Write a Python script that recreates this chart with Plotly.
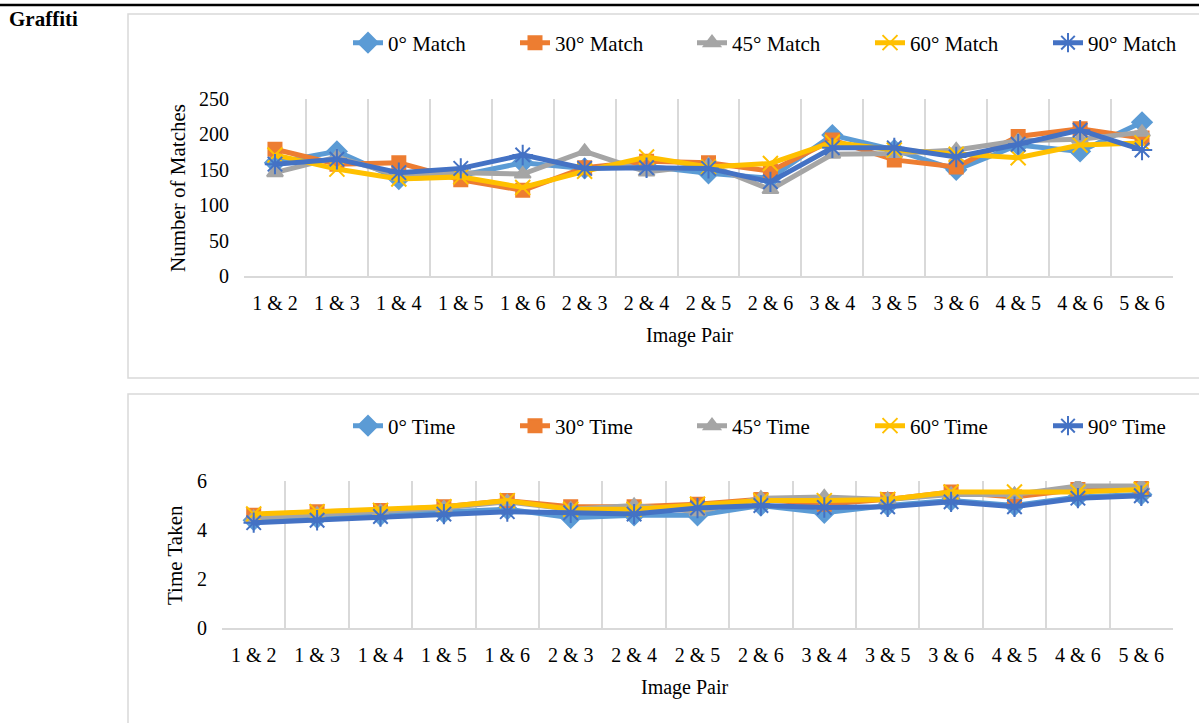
import plotly.graph_objects as go

W, H = 1199, 723

pairs = ["1 & 2", "1 & 3", "1 & 4", "1 & 5", "1 & 6", "2 & 3", "2 & 4", "2 & 5",
         "2 & 6", "3 & 4", "3 & 5", "3 & 6", "4 & 5", "4 & 6", "5 & 6"]

angles = ["0°", "30°", "45°", "60°", "90°"]

match_0 = [160, 176, 137, 142, 160, 152, 155, 145, 138, 199, 178, 150, 185, 176, 217]
match_30 = [179, 158, 160, 136, 121, 153, 162, 160, 148, 192, 164, 154, 197, 208, 195]
match_45 = [146, 168, 142, 146, 144, 176, 147, 157, 122, 172, 173, 178, 191, 193, 203]
match_60 = [171, 151, 137, 140, 125, 148, 168, 154, 159, 189, 178, 172, 167, 185, 188]
match_90 = [158, 165, 146, 152, 171, 152, 153, 152, 133, 181, 181, 168, 186, 206, 178]

time_0 = [4.40, 4.50, 4.60, 4.70, 4.85, 4.50, 4.60, 4.60, 5.00, 4.70, 5.00, 5.20, 5.00, 5.35, 5.45]
time_30 = [4.60, 4.75, 4.80, 4.95, 5.20, 4.95, 4.95, 5.05, 5.25, 5.05, 5.25, 5.55, 5.35, 5.65, 5.70]
time_45 = [4.50, 4.65, 4.75, 4.90, 5.15, 4.85, 5.00, 4.75, 5.30, 5.35, 5.25, 5.45, 5.45, 5.80, 5.80]
time_60 = [4.65, 4.75, 4.80, 4.95, 5.20, 4.85, 4.85, 5.05, 5.20, 5.20, 5.25, 5.55, 5.55, 5.55, 5.65]
time_90 = [4.30, 4.40, 4.55, 4.65, 4.75, 4.70, 4.65, 4.90, 5.00, 4.92, 4.95, 5.15, 4.95, 5.30, 5.40]

colors = ["#5B9BD5", "#ED7D31", "#A5A5A5", "#FFC000", "#4472C4"]
symbols = ["diamond", "square", "triangle-up", "x-thin-open", "asterisk-open"]
sizes = [15, 13, 14, 15, 17]

# left edge (px) of each legend entry
legend_left = [348, 515, 692, 870, 1048]

FONT = "Liberation Serif"
GRID = "#d9d9d9"


def px_x(v):
    return v / W


def px_y(v):
    return 1 - v / H


fig = go.Figure()

match_series = [match_0, match_30, match_45, match_60, match_90]
time_series = [time_0, time_30, time_45, time_60, time_90]

for i, (ang, vals) in enumerate(zip(angles, match_series)):
    fig.add_trace(go.Scatter(
        x=pairs, y=vals, name=f"{ang} Match", mode="lines+markers",
        line=dict(color=colors[i], width=5),
        marker=dict(symbol=symbols[i], size=sizes[i], color=colors[i],
                    line=dict(color=colors[i], width=2)),
        xaxis="x", yaxis="y", legend="legend" if i == 0 else f"legend{i + 1}",
    ))

for i, (ang, vals) in enumerate(zip(angles, time_series)):
    fig.add_trace(go.Scatter(
        x=pairs, y=vals, name=f"{ang} Time", mode="lines+markers",
        line=dict(color=colors[i], width=5),
        marker=dict(symbol=symbols[i], size=sizes[i], color=colors[i],
                    line=dict(color=colors[i], width=2)),
        xaxis="x2", yaxis="y2", legend=f"legend{i + 6}",
    ))

xaxis_common = dict(
    type="category", tickson="boundaries", showgrid=True, gridcolor=GRID, gridwidth=1.5,
    showline=True, linecolor=GRID, linewidth=1.5, ticks="", zeroline=False,
    tickfont=dict(family=FONT, size=20, color="#000"), ticklabelstandoff=8,
    range=[-0.5, 14.5], fixedrange=True,
)
yaxis_common = dict(
    showgrid=False, showline=False, zeroline=False, ticks="",
    tickfont=dict(family=FONT, size=20, color="#000"), ticklabelstandoff=14,
    fixedrange=True,
)

legend_common = dict(
    orientation="h", xanchor="left", yanchor="middle",
    font=dict(family=FONT, size=21, color="#000"),
    itemwidth=30, bgcolor="rgba(0,0,0,0)",
)

legends = {}
for i, left in enumerate(legend_left):
    legends["legend" if i == 0 else f"legend{i + 1}"] = dict(
        x=px_x(left), y=px_y(43), **legend_common)
    legends[f"legend{i + 6}"] = dict(x=px_x(left), y=px_y(426), **legend_common)

fig.update_layout(
    width=W, height=H,
    margin=dict(l=0, r=0, t=0, b=0, autoexpand=False),
    paper_bgcolor="white", plot_bgcolor="white",
    font=dict(family=FONT, size=20, color="#000"),
    xaxis=dict(domain=[px_x(244), px_x(1173)], anchor="y", **xaxis_common),
    yaxis=dict(domain=[px_y(276), px_y(99)], anchor="x", range=[0, 250], dtick=50,
               **yaxis_common),
    xaxis2=dict(domain=[px_x(222), px_x(1173)], anchor="y2", **xaxis_common),
    yaxis2=dict(domain=[px_y(628), px_y(481)], anchor="x2", range=[0, 6], dtick=2,
                **yaxis_common),
    showlegend=True,
    **legends,
)

# page rule, panel frames
fig.add_shape(type="line", xref="paper", yref="paper",
              x0=0, x1=1, y0=px_y(5), y1=px_y(5), line=dict(color="#000", width=2.5))
fig.add_shape(type="rect", xref="paper", yref="paper",
              x0=px_x(128), x1=px_x(1210), y0=px_y(378), y1=px_y(14),
              line=dict(color=GRID, width=1.5), layer="below")
fig.add_shape(type="rect", xref="paper", yref="paper",
              x0=px_x(128), x1=px_x(1210), y0=px_y(740), y1=px_y(394),
              line=dict(color=GRID, width=1.5), layer="below")

annotations = [
    dict(text="<b>Graffiti</b>", x=px_x(7), y=px_y(19), xanchor="left", yanchor="middle",
         font=dict(family=FONT, size=21, color="#000")),
    dict(text="Number of Matches", x=px_x(178), y=px_y(188), textangle=-90,
         xanchor="center", yanchor="middle", font=dict(family=FONT, size=21, color="#000")),
    dict(text="Image Pair", x=px_x(690), y=px_y(335), xanchor="center", yanchor="middle",
         font=dict(family=FONT, size=20, color="#000")),
    dict(text="Time Taken", x=px_x(175), y=px_y(555), textangle=-90,
         xanchor="center", yanchor="middle", font=dict(family=FONT, size=21, color="#000")),
    dict(text="Image Pair", x=px_x(685), y=px_y(687), xanchor="center", yanchor="middle",
         font=dict(family=FONT, size=20, color="#000")),
]
for a in annotations:
    fig.add_annotation(xref="paper", yref="paper", showarrow=False, **a)

fig.write_html("out.html")
